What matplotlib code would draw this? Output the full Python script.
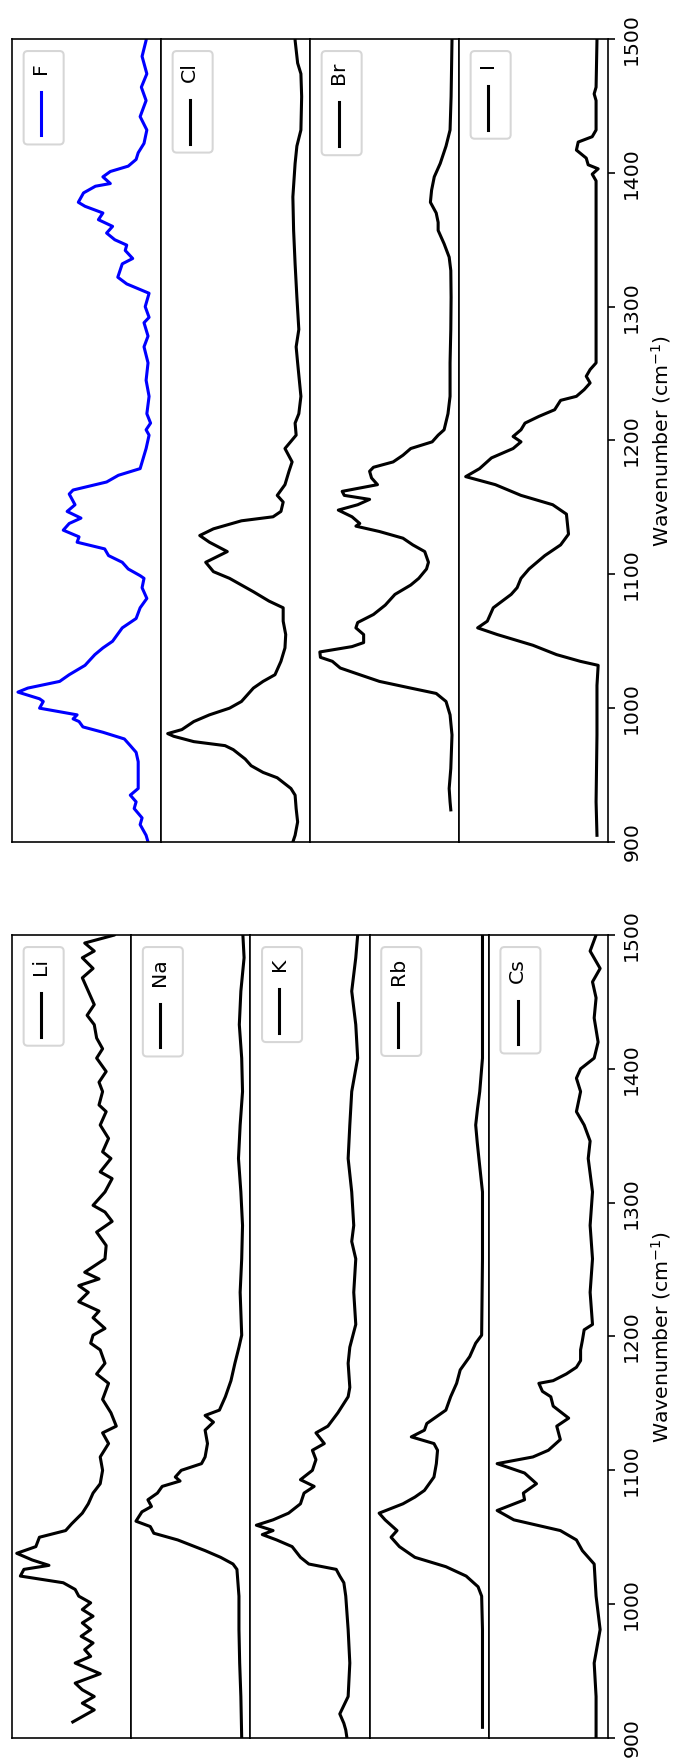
import numpy as np
import matplotlib
matplotlib.use('Agg')
import matplotlib.pyplot as plt
from matplotlib.patches import FancyBboxPatch
from matplotlib.lines import Line2D
from matplotlib.transforms import IdentityTransform

# (wavenumber cm-1, normalised intensity)
LI = [(1504, 0.12), (1500, 0.14), (1494, 0.39), (1488, 0.31), (1483, 0.41), (1475, 0.32), (1468, 0.41),
      (1458, 0.36), (1448, 0.31), (1440, 0.37), (1433, 0.31), (1423, 0.29), (1415, 0.24), (1408, 0.29),
      (1398, 0.21), (1390, 0.27), (1383, 0.24), (1373, 0.27), (1368, 0.21), (1358, 0.26), (1348, 0.19),
      (1338, 0.24), (1333, 0.17), (1323, 0.26), (1318, 0.16), (1308, 0.22), (1298, 0.32), (1293, 0.22),
      (1286, 0.16), (1278, 0.29), (1268, 0.21), (1258, 0.22), (1248, 0.39), (1243, 0.27), (1238, 0.44),
      (1233, 0.36), (1226, 0.44), (1219, 0.27), (1214, 0.32), (1206, 0.22), (1201, 0.32), (1195, 0.34),
      (1190, 0.26), (1180, 0.22), (1172, 0.29), (1165, 0.19), (1153, 0.24), (1143, 0.17), (1133, 0.125),
      (1128, 0.24), (1120, 0.19), (1110, 0.26), (1100, 0.24), (1090, 0.26), (1083, 0.32), (1075, 0.36),
      (1068, 0.41), (1060, 0.50), (1055, 0.55), (1050, 0.77), (1043, 0.80), (1038, 0.96), (1033, 0.83),
      (1029, 0.69), (1026, 0.90), (1021, 0.93), (1016, 0.57), (1011, 0.47), (1006, 0.44), (1001, 0.34),
      (996, 0.41), (991, 0.32), (986, 0.41), (981, 0.34), (976, 0.42), (971, 0.32), (966, 0.39),
      (961, 0.34), (956, 0.47), (948, 0.26), (941, 0.47), (936, 0.41), (931, 0.31), (926, 0.41),
      (921, 0.31), (916, 0.41), (912, 0.49)]

NA = [(1507, 0.063), (1500, 0.063), (1483, 0.053), (1458, 0.08), (1433, 0.093), (1408, 0.073),
      (1383, 0.066), (1358, 0.086), (1333, 0.10), (1308, 0.08), (1283, 0.066), (1258, 0.073),
      (1233, 0.086), (1201, 0.073), (1192, 0.096), (1180, 0.13), (1167, 0.163), (1155, 0.21),
      (1145, 0.26), (1141, 0.38), (1136, 0.31), (1130, 0.38), (1120, 0.36), (1110, 0.38), (1105, 0.41),
      (1100, 0.58), (1095, 0.63), (1092, 0.59), (1088, 0.74), (1083, 0.78), (1078, 0.86), (1073, 0.83),
      (1069, 0.91), (1062, 0.96), (1058, 0.84), (1053, 0.81), (1048, 0.61), (1040, 0.38), (1035, 0.25),
      (1030, 0.146), (1026, 0.113), (1006, 0.096), (981, 0.096), (956, 0.09), (931, 0.08), (900, 0.073)]

K = [(1507, 0.10), (1500, 0.10), (1483, 0.116), (1458, 0.15), (1433, 0.116), (1408, 0.10), (1383, 0.15),
     (1358, 0.166), (1333, 0.18), (1308, 0.15), (1283, 0.133), (1271, 0.15), (1258, 0.116), (1233, 0.133),
     (1209, 0.116), (1192, 0.166), (1180, 0.18), (1162, 0.166), (1155, 0.18), (1143, 0.266), (1133, 0.35),
     (1128, 0.45), (1120, 0.38), (1115, 0.48), (1108, 0.45), (1100, 0.48), (1093, 0.58), (1088, 0.465),
     (1083, 0.55), (1075, 0.58), (1068, 0.68), (1063, 0.81), (1059, 0.95), (1055, 0.81), (1052, 0.90),
     (1048, 0.78), (1043, 0.65), (1035, 0.58), (1030, 0.51), (1026, 0.28), (1021, 0.25), (1016, 0.216),
     (1006, 0.20), (981, 0.18), (956, 0.166), (931, 0.18), (918, 0.25), (911, 0.216), (906, 0.20),
     (900, 0.19)]

RB = [(1507, 0.053), (1408, 0.053), (1383, 0.076), (1370, 0.095), (1358, 0.11), (1345, 0.097),
      (1333, 0.083), (1308, 0.053), (1258, 0.053), (1201, 0.06), (1195, 0.11), (1185, 0.16),
      (1175, 0.24), (1165, 0.27), (1155, 0.32), (1145, 0.36), (1135, 0.52), (1130, 0.54), (1125, 0.65),
      (1120, 0.46), (1115, 0.43), (1105, 0.44), (1095, 0.46), (1085, 0.54), (1080, 0.62), (1075, 0.72),
      (1068, 0.92), (1063, 0.87), (1055, 0.77), (1050, 0.82), (1043, 0.75), (1035, 0.62), (1028, 0.36),
      (1021, 0.19), (1013, 0.09), (1006, 0.06), (981, 0.053), (908, 0.053)]

CS = [(1507, 0.10), (1500, 0.10), (1488, 0.15), (1475, 0.066), (1465, 0.13), (1453, 0.10), (1438, 0.116),
      (1420, 0.083), (1408, 0.116), (1400, 0.23), (1393, 0.265), (1383, 0.23), (1368, 0.265), (1358, 0.20),
      (1346, 0.15), (1333, 0.166), (1308, 0.13), (1283, 0.15), (1258, 0.13), (1233, 0.15), (1209, 0.13),
      (1205, 0.20), (1197, 0.215), (1190, 0.23), (1182, 0.23), (1177, 0.265), (1172, 0.35), (1167, 0.46),
      (1165, 0.58), (1159, 0.55), (1155, 0.48), (1148, 0.46), (1139, 0.33), (1133, 0.43), (1123, 0.40),
      (1115, 0.50), (1110, 0.63), (1105, 0.93), (1098, 0.70), (1090, 0.60), (1083, 0.71), (1078, 0.70),
      (1070, 0.93), (1063, 0.79), (1055, 0.40), (1048, 0.265), (1040, 0.215), (1030, 0.116), (1006, 0.10),
      (981, 0.066), (956, 0.116), (931, 0.10), (906, 0.10), (900, 0.10)]

F = [(1507, 0.095), (1499, 0.10), (1487, 0.127), (1474, 0.095), (1464, 0.132), (1454, 0.10), (1442, 0.14),
     (1432, 0.095), (1422, 0.114), (1415, 0.153), (1410, 0.167), (1405, 0.22), (1401, 0.34), (1397, 0.39),
     (1392, 0.34), (1390, 0.44), (1385, 0.52), (1378, 0.555), (1375, 0.51), (1370, 0.39), (1365, 0.42),
     (1360, 0.325), (1355, 0.365), (1350, 0.31), (1346, 0.23), (1342, 0.24), (1336, 0.19), (1332, 0.26),
     (1322, 0.29), (1317, 0.23), (1310, 0.08), (1300, 0.106), (1292, 0.08), (1288, 0.114), (1278, 0.087),
     (1270, 0.114), (1258, 0.087), (1245, 0.10), (1233, 0.08), (1220, 0.095), (1213, 0.07), (1208, 0.10),
     (1204, 0.08), (1194, 0.10), (1179, 0.14), (1174, 0.286), (1169, 0.365), (1163, 0.59), (1160, 0.616),
     (1152, 0.577), (1147, 0.63), (1142, 0.537), (1138, 0.616), (1133, 0.656), (1128, 0.55), (1124, 0.563),
     (1119, 0.378), (1114, 0.352), (1109, 0.26), (1104, 0.22), (1099, 0.14), (1097, 0.114), (1090, 0.127),
     (1082, 0.095), (1075, 0.14), (1067, 0.167), (1060, 0.26), (1050, 0.325), (1045, 0.39), (1040, 0.444),
     (1032, 0.51), (1025, 0.616), (1020, 0.68), (1015, 0.894), (1012, 0.96), (1007, 0.815), (1005, 0.79),
     (1000, 0.815), (995, 0.563), (992, 0.59), (990, 0.55), (986, 0.524), (982, 0.39), (977, 0.246),
     (972, 0.206), (967, 0.167), (960, 0.153), (950, 0.153), (940, 0.153), (935, 0.206), (930, 0.167),
     (925, 0.18), (918, 0.127), (913, 0.14), (905, 0.10), (900, 0.087)]

CL = [(1507, 0.10), (1499, 0.10), (1482, 0.083), (1474, 0.061), (1457, 0.056), (1432, 0.061), (1420, 0.088),
      (1407, 0.10), (1382, 0.115), (1357, 0.11), (1332, 0.10), (1307, 0.088), (1283, 0.075), (1270, 0.093),
      (1258, 0.083), (1233, 0.061), (1220, 0.075), (1213, 0.10), (1204, 0.093), (1194, 0.168), (1184, 0.12),
      (1177, 0.141), (1167, 0.168), (1159, 0.22), (1154, 0.18), (1147, 0.195), (1143, 0.248), (1140, 0.46),
      (1134, 0.648), (1129, 0.74), (1124, 0.675), (1117, 0.555), (1109, 0.70), (1102, 0.648), (1097, 0.54),
      (1087, 0.38), (1080, 0.275), (1075, 0.18), (1065, 0.18), (1055, 0.163), (1045, 0.168), (1035, 0.195),
      (1025, 0.235), (1020, 0.315), (1015, 0.38), (1005, 0.46), (1000, 0.54), (995, 0.675), (990, 0.78),
      (984, 0.86), (981, 0.955), (979, 0.915), (975, 0.78), (972, 0.57), (969, 0.515), (962, 0.435),
      (957, 0.395), (952, 0.315), (948, 0.22), (940, 0.128), (935, 0.10), (925, 0.093), (915, 0.083),
      (905, 0.10), (900, 0.115)]

BR = [(1507, 0.047), (1499, 0.047), (1457, 0.053), (1432, 0.06), (1420, 0.087), (1407, 0.126), (1397, 0.166),
      (1387, 0.184), (1378, 0.192), (1370, 0.153), (1363, 0.14), (1357, 0.14), (1347, 0.10), (1337, 0.066),
      (1327, 0.055), (1307, 0.053), (1283, 0.055), (1258, 0.06), (1233, 0.06), (1220, 0.074), (1208, 0.10),
      (1204, 0.14), (1199, 0.18), (1194, 0.324), (1189, 0.376), (1184, 0.442), (1180, 0.574), (1177, 0.60),
      (1172, 0.587), (1167, 0.547), (1162, 0.784), (1159, 0.77), (1156, 0.60), (1152, 0.68), (1148, 0.81),
      (1143, 0.718), (1138, 0.666), (1136, 0.692), (1132, 0.534), (1127, 0.376), (1122, 0.31), (1117, 0.23),
      (1109, 0.205), (1104, 0.218), (1097, 0.27), (1092, 0.324), (1085, 0.43), (1077, 0.495), (1070, 0.574),
      (1064, 0.68), (1060, 0.692), (1055, 0.64), (1049, 0.64), (1046, 0.718), (1042, 0.934), (1038, 0.93),
      (1035, 0.85), (1030, 0.797), (1025, 0.666), (1020, 0.534), (1015, 0.324), (1011, 0.153), (1005, 0.087),
      (995, 0.06), (980, 0.047), (955, 0.055), (940, 0.066), (930, 0.06), (924, 0.055)]

IO = [(1507, 0.074), (1499, 0.074), (1464, 0.08), (1459, 0.093), (1454, 0.08), (1432, 0.08), (1427, 0.106),
      (1423, 0.2), (1417, 0.212), (1411, 0.146), (1406, 0.133), (1403, 0.066), (1399, 0.106), (1394, 0.08),
      (1382, 0.08), (1332, 0.08), (1258, 0.08), (1253, 0.12), (1248, 0.146), (1243, 0.12), (1238, 0.16),
      (1233, 0.212), (1230, 0.318), (1223, 0.358), (1218, 0.464), (1213, 0.557), (1208, 0.584), (1203, 0.637),
      (1199, 0.584), (1194, 0.637), (1187, 0.782), (1179, 0.862), (1173, 0.955), (1167, 0.756), (1159, 0.584),
      (1152, 0.371), (1145, 0.279), (1130, 0.265), (1122, 0.318), (1114, 0.424), (1104, 0.53), (1097, 0.584),
      (1090, 0.61), (1085, 0.65), (1075, 0.77), (1065, 0.81), (1060, 0.875), (1055, 0.743), (1047, 0.504),
      (1040, 0.345), (1035, 0.186), (1032, 0.066), (1017, 0.074), (980, 0.074), (930, 0.08), (905, 0.074)]

CATION_LABELS = ['Li', 'Na', 'K', 'Rb', 'Cs']
CATION_DATA = [LI, NA, K, RB, CS]
CATION_COLORS = ['k', 'k', 'k', 'k', 'k']

ANION_LABELS = ['F', 'Cl', 'Br', 'I']
ANION_DATA = [F, CL, BR, IO]
ANION_COLORS = ['b', 'k', 'k', 'k']

DPI = 147
W, H = 685, 1760


def add_panel(fig, bottom, top, labels, data, colors):
    left, right = 12 / W, 608 / W
    w = (right - left) / len(labels)
    axes = []
    for i, (lab, pts, c) in enumerate(zip(labels, data, colors)):
        ax = fig.add_axes([left + i * w, bottom, w, top - bottom])
        wn, inten = np.array(pts).T
        ax.plot(inten, wn, color=c, lw=1.5, label=lab)
        ax.set_ylim(900, 1500)
        ax.set_xlim(1.0, 0.0)
        ax.set_xticks([])
        if i == len(labels) - 1:
            ax.yaxis.tick_right()
            ax.yaxis.set_label_position('right')
            ax.set_yticks(range(900, 1501, 100))
            ax.tick_params(axis='y', labelrotation=90)
            for t in ax.get_yticklabels():
                t.set_va('center')
            ax.set_ylabel('Wavenumber (cm$^{-1}$)', rotation=90)
        else:
            ax.set_yticks([])
        axes.append((ax, lab, c))
    return axes


def rotated_legend(fig, ax, label, color, renderer):
    # legend turned a quarter turn: handle below, label above
    s = fig.dpi / 72.0
    bb = ax.get_window_extent(renderer)
    bx = bb.x0 + 5.7 * s
    top = bb.y1 - 5.9 * s
    bw = 19.6 * s
    cx = bx + 8.4 * s
    txt = fig.text(cx, top - 5.3 * s, label, rotation=90, ha='center', va='top',
                   fontsize=10, transform=IdentityTransform(), zorder=6)
    tb = txt.get_window_extent(renderer)
    l_top = tb.y0 - 8.8 * s
    l_bot = l_top - 21.5 * s
    fig.add_artist(Line2D([cx, cx], [l_top, l_bot], color=color, lw=1.5,
                          transform=IdentityTransform(), zorder=6))
    bottom = l_bot - 4.4 * s
    box = FancyBboxPatch((bx, bottom), bw, top - bottom,
                         boxstyle='round,pad=0,rounding_size=%f' % (2.0 * s),
                         fc='white', ec='0.8', lw=1.0, alpha=0.8,
                         transform=IdentityTransform(), zorder=5)
    fig.add_artist(box)


fig = plt.figure(figsize=(W / DPI, H / DPI), dpi=DPI)
strips = add_panel(fig, 1 - 842 / H, 1 - 39 / H, ANION_LABELS, ANION_DATA, ANION_COLORS)
strips += add_panel(fig, 1 - 1738 / H, 1 - 935 / H, CATION_LABELS, CATION_DATA, CATION_COLORS)

fig.canvas.draw()
renderer = fig.canvas.get_renderer()
for ax, lab, c in strips:
    rotated_legend(fig, ax, lab, c, renderer)

fig.savefig('out.png', dpi=DPI)
